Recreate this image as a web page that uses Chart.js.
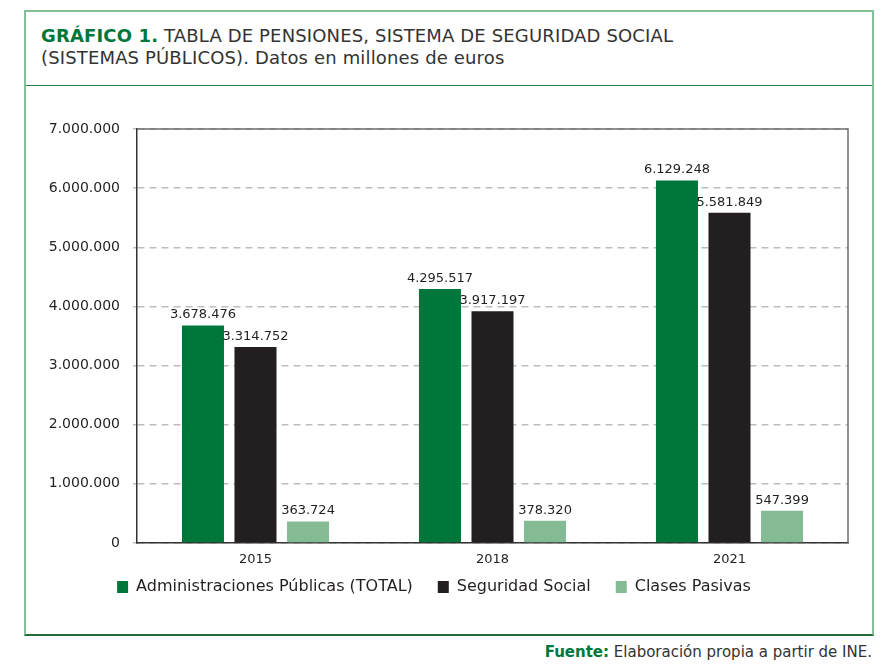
<!DOCTYPE html>
<html lang="es">
<head>
<meta charset="utf-8">
<title>Gráfico 1</title>
<script src="https://cdn.jsdelivr.net/npm/chart.js@4/dist/chart.umd.min.js"></script>
<style>
    html, body {
        margin: 0;
        padding: 0;
        background: #ffffff;
        width: 881px;
        height: 671px;
        overflow: hidden;
        font-family: "DejaVu Sans", sans-serif;
    }
    .box {
        position: absolute;
        left: 24px;
        top: 10px;
        width: 846px;
        height: 622px;
        border-top: 2px solid #85bf9a;
        border-left: 2px solid #85bf9a;
        border-right: 2px solid #85bf9a;
        border-bottom: 2px solid #1f6e3a;
    }
    .header {
        position: absolute;
        left: 0;
        top: 0;
        width: 846px;
        height: 73px;
        border-bottom: 1px solid #2f7d49;
    }
    .title {
        position: absolute;
        left: 15px;
        top: 13px;
        font-size: 18px;
        line-height: 22px;
        letter-spacing: 0.15px;
        color: #333333;
    }
    .title b {
        color: #00773a;
    }
    #chartWrap {
        position: absolute;
        left: 0;
        top: 90px;
        width: 881px;
        height: 520px;
    }
    .fuente {
        position: absolute;
        right: 9px;
        top: 643px;
        font-size: 15px;
        color: #333333;
    }
    .fuente b {
        color: #00773a;
    }
</style>
</head>
<body>
<div class="box">
    <div class="header">
        <div class="title"><b>GRÁFICO 1.</b> TABLA DE PENSIONES, SISTEMA DE SEGURIDAD SOCIAL<br>(SISTEMAS PÚBLICOS). Datos en millones de euros</div>
    </div>
</div>
<div id="chartWrap"><canvas id="pensionesChart" width="881" height="520"></canvas></div>
<div class="fuente"><b>Fuente:</b> Elaboración propia a partir de INE.</div>

<script>
// datos del gráfico
const categories = ['2015', '2018', '2021'];
const adminPublicas = [3678476, 4295517, 6129248];
const seguridadSocial = [3314752, 3917197, 5581849];
const clasesPasivas = [363724, 378320, 547399];
const seriesNames = ['Administraciones Públicas (TOTAL)', 'Seguridad Social', 'Clases Pasivas'];
const yMax = 7000000;
const yStep = 1000000;

const FONT = '"DejaVu Sans", sans-serif';

/**
 * formato con puntos de miles
 */
function formatMiles(value) {
    return String(Math.round(value)).replace(/\B(?=(\d{3})+(?!\d))/g, '.');
}

/**
 * etiquetas encima de cada barra
 */
const valueLabels = {
    id: 'valueLabels',
    afterDatasetsDraw(chart) {
        const ctx = chart.ctx;
        ctx.save();
        ctx.font = `13px ${FONT}`;
        ctx.fillStyle = '#231f20';
        ctx.textAlign = 'center';
        ctx.textBaseline = 'bottom';
        chart.data.datasets.forEach((ds, i) => {
            const meta = chart.getDatasetMeta(i);
            meta.data.forEach((bar, j) => {
                ctx.fillText(formatMiles(ds.data[j]), bar.x, bar.y - 4);
            });
        });
        ctx.restore();
    }
};

/**
 * años bajo el eje x (la escala recorta sus propias etiquetas a su caja)
 */
const yearLabels = {
    id: 'yearLabels',
    afterDraw(chart) {
        const { ctx, chartArea } = chart;
        const xScale = chart.scales.x;
        ctx.save();
        ctx.font = `13px ${FONT}`;
        ctx.fillStyle = '#231f20';
        ctx.textAlign = 'center';
        ctx.textBaseline = 'middle';
        chart.data.labels.forEach((label, i) => {
            ctx.fillText(label, xScale.getPixelForTick(i), chartArea.bottom + 17);
        });
        ctx.restore();
    }
};

/**
 * marco superior y derecho del área de trazado
 */
const plotFrame = {
    id: 'plotFrame',
    afterDraw(chart) {
        const { ctx, chartArea } = chart;
        ctx.save();
        ctx.strokeStyle = '#6d6d6d';
        ctx.lineWidth = 1.5;
        ctx.beginPath();
        ctx.moveTo(chartArea.left, chartArea.top);
        ctx.lineTo(chartArea.right, chartArea.top);
        ctx.lineTo(chartArea.right, chartArea.bottom);
        ctx.stroke();
        ctx.restore();
    }
};

const ctx = document.getElementById('pensionesChart').getContext('2d');

new Chart(ctx, {
    type: 'bar',
    data: {
        labels: categories,
        datasets: [
            { label: seriesNames[0], data: adminPublicas, backgroundColor: '#00773a' },
            { label: seriesNames[1], data: seguridadSocial, backgroundColor: '#231f20' },
            { label: seriesNames[2], data: clasesPasivas, backgroundColor: '#85bb94' }
        ]
    },
    options: {
        responsive: false,
        animation: false,
        devicePixelRatio: 1,
        layout: {
            padding: { left: 20, right: 33, top: 39, bottom: 5 }
        },
        datasets: {
            bar: {
                barPercentage: 0.8,
                categoryPercentage: 0.665
            }
        },
        plugins: {
            legend: {
                position: 'bottom',
                labels: {
                    boxWidth: 11,
                    boxHeight: 12,
                    padding: 25,
                    color: '#231f20',
                    font: { family: FONT, size: 16 }
                }
            },
            tooltip: { enabled: false }
        },
        scales: {
            x: {
                grid: { display: false },
                border: { display: true, color: '#333333', width: 1.5 },
                ticks: { display: false },
                afterFit(scale) {
                    scale.height = 11;
                }
            },
            y: {
                min: 0,
                max: yMax,
                grid: {
                    color: '#bdbdbd',
                    lineWidth: 1.5,
                    drawTicks: true,
                    tickLength: 4,
                    tickColor: '#bdbdbd'
                },
                border: { display: true, color: '#333333', width: 1.5, dash: [7, 5] },
                ticks: {
                    stepSize: yStep,
                    color: '#231f20',
                    padding: 13,
                    font: { family: FONT, size: 14 },
                    callback: function (value) {
                        return formatMiles(value);
                    }
                },
                afterFit(scale) {
                    scale.width = 117;
                }
            }
        }
    },
    plugins: [valueLabels, yearLabels, plotFrame]
});
</script>
</body>
</html>
